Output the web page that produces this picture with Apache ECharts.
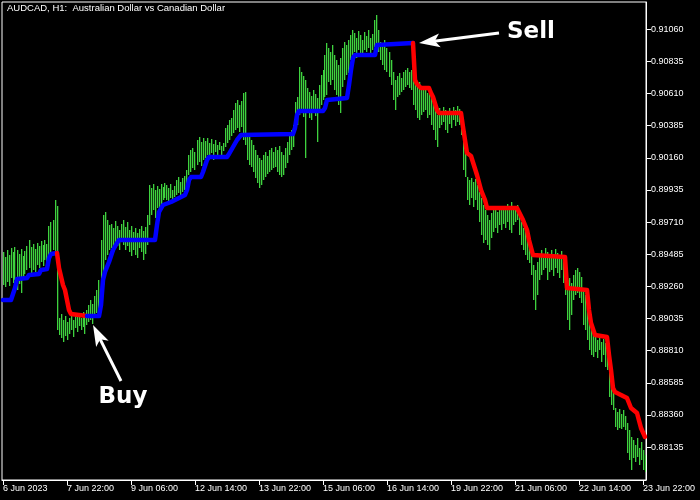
<!DOCTYPE html>
<html><head><meta charset="utf-8">
<script src="https://cdn.jsdelivr.net/npm/echarts@6/dist/echarts.min.js"></script>
<style>html,body{margin:0;padding:0;background:#000}#c{width:700px;height:500px}</style>
</head><body><div id="c"></div>
<script>
const titleText = 'AUDCAD, H1:  Australian Dollar vs Canadian Dollar';
const tickLabels = ['6 Jun 2023','7 Jun 22:00','9 Jun 06:00','12 Jun 14:00','13 Jun 22:00','15 Jun 06:00','16 Jun 14:00','19 Jun 22:00','21 Jun 06:00','22 Jun 14:00','23 Jun 22:00'];
const priceTicks = [0.88135,0.88360,0.88585,0.88810,0.89035,0.89260,0.89485,0.89710,0.89935,0.90160,0.90385,0.90610,0.90835,0.91060];

const highs = [
0.89501,0.89466,0.89515,0.89480,0.89529,0.89501,0.89536,0.89515,0.89487,0.89522,
0.89473,0.89508,0.89543,0.89585,0.89536,0.89557,0.89522,0.89564,0.89543,0.89578,
0.89550,0.89585,0.89557,0.89683,0.89711,0.89725,0.89865,0.89823,0.89039,0.89067,
0.89025,0.89053,0.89011,0.89039,0.89060,0.89025,0.89074,0.89046,0.89067,0.89039,
0.89081,0.89053,0.89095,0.89130,0.89165,0.89137,0.89193,0.89235,0.89305,0.89585,
0.89760,0.89781,0.89725,0.89690,0.89697,0.89669,0.89718,0.89683,0.89655,0.89697,
0.89725,0.89676,0.89711,0.89655,0.89683,0.89641,0.89669,0.89634,0.89662,0.89683,
0.89648,0.89676,0.89760,0.89970,0.89949,0.89977,0.89935,0.89963,0.89942,0.89977,
0.89956,0.89984,0.89970,0.89949,0.89977,0.89935,0.89963,0.90005,0.90026,0.89991,
0.90019,0.90033,0.90075,0.90180,0.90215,0.90229,0.90201,0.90285,0.90306,0.90271,
0.90299,0.90278,0.90299,0.90264,0.90292,0.90257,0.90285,0.90250,0.90271,0.90243,
0.90264,0.90369,0.90390,0.90425,0.90439,0.90495,0.90544,0.90565,0.90530,0.90558,
0.90614,0.90621,0.90320,0.90334,0.90285,0.90250,0.90215,0.90180,0.90159,0.90145,
0.90180,0.90201,0.90173,0.90215,0.90229,0.90201,0.90236,0.90215,0.90243,0.90201,
0.90180,0.90229,0.90271,0.90320,0.90355,0.90390,0.90551,0.90586,0.90796,0.90761,
0.90733,0.90705,0.90649,0.90621,0.90593,0.90635,0.90607,0.90579,0.90670,0.90740,
0.90775,0.90880,0.90964,0.90929,0.90901,0.90950,0.90880,0.90845,0.90810,0.90859,
0.90929,0.90971,0.90950,0.90985,0.91020,0.91055,0.91034,0.90999,0.91048,0.91020,
0.90985,0.91041,0.91013,0.91055,0.90999,0.91027,0.91125,0.91160,0.91055,0.90971,
0.90950,0.90985,0.90929,0.90901,0.90845,0.90761,0.90705,0.90733,0.90754,0.90719,
0.90761,0.90775,0.90789,0.90761,0.90775,0.90726,0.90705,0.90670,0.90691,0.90649,
0.90635,0.90656,0.90614,0.90635,0.90579,0.90530,0.90495,0.90460,0.90509,0.90481,
0.90516,0.90495,0.90460,0.90509,0.90481,0.90516,0.90495,0.90523,0.90502,0.90481,
0.90285,0.90215,0.90026,0.90005,0.90019,0.89991,0.90012,0.89970,0.89921,0.89879,
0.89830,0.89795,0.89760,0.89725,0.89774,0.89795,0.89809,0.89781,0.89816,0.89795,
0.89823,0.89802,0.89837,0.89809,0.89851,0.89816,0.89795,0.89830,0.89760,0.89711,
0.89669,0.89641,0.89599,0.89585,0.89480,0.89410,0.89375,0.89431,0.89480,0.89515,
0.89459,0.89529,0.89501,0.89473,0.89515,0.89487,0.89522,0.89494,0.89473,0.89508,
0.89480,0.89410,0.89305,0.89319,0.89284,0.89340,0.89375,0.89389,0.89361,0.89326,
0.89235,0.89200,0.89095,0.89004,0.88969,0.88934,0.88906,0.88885,0.88899,0.88871,
0.88892,0.88864,0.88815,0.88654,0.88605,0.88535,0.88409,0.88381,0.88402,0.88367,
0.88395,0.88353,0.88304,0.88255,0.88206,0.88185,0.88150,0.88199,0.88129,0.88171,
0.88115,0.88080];

const lows = [
0.89270,0.89256,0.89291,0.89263,0.89319,0.89284,0.89305,0.89235,0.89277,0.89214,
0.89305,0.89347,0.89375,0.89389,0.89340,0.89375,0.89361,0.89410,0.89389,0.89431,
0.89403,0.89445,0.89424,0.89480,0.89501,0.89515,0.89487,0.88955,0.88920,0.88899,
0.88871,0.88913,0.88885,0.88927,0.88955,0.88906,0.88969,0.88941,0.88983,0.88955,
0.88976,0.88927,0.88990,0.89011,0.89025,0.88997,0.89053,0.89074,0.89095,0.89179,
0.89270,0.89445,0.89480,0.89515,0.89529,0.89501,0.89557,0.89543,0.89515,0.89571,
0.89550,0.89515,0.89543,0.89501,0.89473,0.89515,0.89480,0.89459,0.89529,0.89501,
0.89445,0.89487,0.89550,0.89690,0.89760,0.89795,0.89739,0.89809,0.89781,0.89816,
0.89865,0.89879,0.89865,0.89851,0.89879,0.89865,0.89886,0.89900,0.89914,0.89886,
0.89921,0.89935,0.89949,0.90040,0.90061,0.90089,0.90075,0.90110,0.90131,0.90103,
0.90145,0.90159,0.90180,0.90166,0.90194,0.90145,0.90201,0.90159,0.90215,0.90173,
0.90208,0.90236,0.90264,0.90285,0.90313,0.90334,0.90355,0.90369,0.90341,0.90376,
0.90285,0.90250,0.90145,0.90110,0.90096,0.90061,0.90019,0.89984,0.89949,0.89970,
0.90005,0.90026,0.90047,0.90061,0.90075,0.90089,0.90096,0.90061,0.90040,0.90026,
0.90040,0.90089,0.90124,0.90180,0.90215,0.90236,0.90355,0.90390,0.90460,0.90495,
0.90446,0.90159,0.90481,0.90439,0.90425,0.90474,0.90453,0.90271,0.90495,0.90530,
0.90565,0.90586,0.90600,0.90691,0.90670,0.90705,0.90635,0.90600,0.90530,0.90474,
0.90656,0.90705,0.90740,0.90754,0.90845,0.90880,0.90901,0.90859,0.90915,0.90880,
0.90866,0.90915,0.90901,0.90929,0.90880,0.90915,0.90936,0.90950,0.90901,0.90845,
0.90810,0.90775,0.90761,0.90726,0.90670,0.90565,0.90495,0.90586,0.90600,0.90621,
0.90635,0.90656,0.90670,0.90649,0.90635,0.90530,0.90495,0.90439,0.90425,0.90460,
0.90481,0.90495,0.90439,0.90460,0.90390,0.90355,0.90285,0.90236,0.90369,0.90390,
0.90411,0.90355,0.90334,0.90397,0.90369,0.90425,0.90383,0.90411,0.90390,0.90320,
0.90075,0.90026,0.89865,0.89830,0.89879,0.89816,0.89865,0.89795,0.89711,0.89620,
0.89564,0.89585,0.89550,0.89515,0.89599,0.89641,0.89669,0.89634,0.89690,0.89655,
0.89697,0.89669,0.89711,0.89655,0.89634,0.89690,0.89711,0.89725,0.89620,0.89550,
0.89515,0.89480,0.89445,0.89424,0.89340,0.89165,0.89095,0.89200,0.89305,0.89340,
0.89375,0.89389,0.89305,0.89361,0.89375,0.89333,0.89389,0.89354,0.89319,0.89375,
0.89284,0.89200,0.89025,0.88955,0.89060,0.89165,0.89200,0.89214,0.89179,0.89144,
0.88990,0.88955,0.88885,0.88815,0.88780,0.88766,0.88801,0.88759,0.88815,0.88731,
0.88780,0.88696,0.88675,0.88486,0.88430,0.88395,0.88276,0.88255,0.88269,0.88262,
0.88276,0.88255,0.88094,0.88045,0.87975,0.88059,0.88031,0.88066,0.88010,0.88045,
0.87975,0.87961];

// trailing stop line: [bar index, price]
const trailUp1 = [[0,0.89165],[4,0.89165],[6,0.89249],[7,0.89312],[12,0.89319],[13,0.89340],[18,0.89347],[19,0.89375],[22,0.89382],[23,0.89459],[24,0.89487],[27,0.89494]];
const trailDown1 = [[27,0.89494],[28,0.89389],[30,0.89270],[31,0.89235],[32,0.89165],[33,0.89095],[34,0.89067],[35,0.89053],[42,0.89053]];
const trailUp2 = [[42,0.89053],[48,0.89053],[49,0.89130],[50,0.89305],[51,0.89361],[53,0.89431],[55,0.89515],[57,0.89564],[58,0.89585],[76,0.89585],[77,0.89690],[78,0.89781],[80,0.89830],[84,0.89851],[88,0.89879],[91,0.89900],[92,0.89935],[93,0.90005],[94,0.90026],[99,0.90026],[100,0.90061],[102,0.90145],[103,0.90166],[112,0.90166],[113,0.90187],[115,0.90236],[117,0.90285],[119,0.90320],[120,0.90327],[145,0.90327],[146,0.90369],[147,0.90460],[148,0.90488],[160,0.90488],[161,0.90509],[162,0.90565],[163,0.90579],[172,0.90579],[173,0.90670],[174,0.90775],[175,0.90859],[176,0.90880],[186,0.90880],[187,0.90950],[188,0.90964],[205,0.90964]];
const trailDown2 = [[205,0.90964],[206,0.90705],[207,0.90677],[209,0.90649],[213,0.90649],[214,0.90614],[215,0.90586],[217,0.90495],[218,0.90474],[229,0.90474],[230,0.90376],[232,0.90194],[234,0.90173],[237,0.90040],[239,0.89935],[241,0.89865],[242,0.89809],[257,0.89809],[258,0.89781],[260,0.89725],[262,0.89655],[263,0.89585],[265,0.89480],[266,0.89466],[281,0.89466],[282,0.89249],[283,0.89235],[292,0.89235],[293,0.89095],[294,0.89004],[296,0.88920],[297,0.88906],[302,0.88906],[303,0.88780],[304,0.88675],[305,0.88549],[306,0.88521],[309,0.88500],[312,0.88479],[314,0.88409],[317,0.88374],[319,0.88269],[321,0.88206]];

// annotations: arrow [tip, tail], text anchors  ([bar index, price])
const buyArrow = [[45,0.88990],[59,0.88598]];
const sellArrow = [[208,0.90964],[248,0.91034]];
const buyText = [60,0.88486];
const sellText = [264,0.91044];

// hourly bar times (weekends skipped)
const categories = [];
(function(){
  const mon = ['Jan','Feb','Mar','Apr','May','Jun','Jul','Aug','Sep','Oct','Nov','Dec'];
  let t = Date.UTC(2023,5,6,14);
  while (categories.length < highs.length) {
    const d = new Date(t); const wd = d.getUTCDay();
    if (wd !== 0 && wd !== 6) categories.push(d.getUTCDate()+' '+mon[d.getUTCMonth()]+' '+String(d.getUTCHours()).padStart(2,'0')+':00');
    t += 3600000;
  }
})();

const barData = highs.map((h,i)=>[i,h,lows[i]]);
const FONT = '"Liberation Sans",Arial,sans-serif';
const BAR_COLOR = '#3fd23f';

const chart = echarts.init(document.getElementById('c'), null, {renderer:'canvas'});
function trail(data, color){
  return {type:'line', data, symbol:'none', silent:true, animation:false,
    lineStyle:{color, width:4.5, cap:'round', join:'round'}, z:3};
}
chart.setOption({
  backgroundColor:'#000',
  animation:false,
  title:{text:titleText, left:7, top:3, padding:0, textStyle:{color:'#fff', fontSize:9.5, fontWeight:'normal', fontFamily:FONT}},
  grid:{left:2, top:2, right:54, bottom:20, show:true, borderColor:'#fff', borderWidth:1, backgroundColor:'transparent', containLabel:false, outerBoundsMode:'none'},
  xAxis:{type:'category', data:categories, boundaryGap:true,
    axisLine:{show:true, lineStyle:{color:'#fff'}},
    axisTick:{show:true, interval:31, alignWithLabel:true, length:5, lineStyle:{color:'#fff'}},
    axisLabel:{interval:31, color:'#fff', fontSize:9, fontFamily:FONT, align:'left', margin:4, hideOverlap:false,
      formatter:(v,idx)=> idx%32===0 ? (tickLabels[idx/32]||'') : ''},
    splitLine:{show:false}},
  yAxis:{type:'value', position:'right', min:0.87905, max:0.91251,
    axisLine:{show:true, lineStyle:{color:'#fff'}},
    axisTick:{show:true, inside:false, length:5, lineStyle:{color:'#fff'}, customValues:priceTicks},
    axisLabel:{color:'#fff', fontSize:9, fontFamily:FONT, margin:5, customValues:priceTicks, formatter:v=>v.toFixed(5)},
    splitLine:{show:false}},
  series:[
    {type:'custom', data:barData, encode:{x:0, y:[1,2]}, silent:true, clip:true, z:2,
      renderItem:(params, api)=>{
        const top = api.coord([api.value(0), api.value(1)]);
        const bot = api.coord([api.value(0), api.value(2)]);
        return {type:'rect', shape:{x:Math.floor(top[0]), y:top[1], width:1.3, height:Math.max(1, bot[1]-top[1])}, style:{fill:BAR_COLOR}};
      }},
    trail(trailUp1, '#0000ff'),
    trail(trailDown1, '#ff0000'),
    trail(trailUp2, '#0000ff'),
    trail(trailDown2, '#ff0000')
  ]
});

// annotation arrows and labels, placed through the chart's own coordinate system
function arrow(tipData, tailData){
  const T = chart.convertToPixel({gridIndex:0}, tipData);
  const S = chart.convertToPixel({gridIndex:0}, tailData);
  const dx = T[0]-S[0], dy = T[1]-S[1], len = Math.hypot(dx,dy);
  const ux = dx/len, uy = dy/len, nx = -uy, ny = ux;
  const L = 21, W = 7, notch = 5;
  const bx = T[0]-ux*L, by = T[1]-uy*L;
  const head = [[T[0],T[1]],[bx+nx*W,by+ny*W],[T[0]-ux*(L-notch),T[1]-uy*(L-notch)],[bx-nx*W,by-ny*W]];
  return [
    {type:'line', shape:{x1:S[0], y1:S[1], x2:T[0]-ux*(L-notch-1), y2:T[1]-uy*(L-notch-1)}, style:{stroke:'#fff', lineWidth:3}, z:10},
    {type:'polygon', shape:{points:head}, style:{fill:'#fff'}, z:10}
  ];
}
function label(txt, pos){
  const P = chart.convertToPixel({gridIndex:0}, pos);
  return {type:'text', x:P[0], y:P[1], z:10, style:{text:txt, fill:'#fff', align:'center', verticalAlign:'middle', font:'bold 23px "DejaVu Sans", sans-serif'}};
}
chart.setOption({graphic:[].concat(arrow(buyArrow[0], buyArrow[1]), arrow(sellArrow[0], sellArrow[1]), [label('Buy', buyText), label('Sell', sellText)])});
</script></body></html>
